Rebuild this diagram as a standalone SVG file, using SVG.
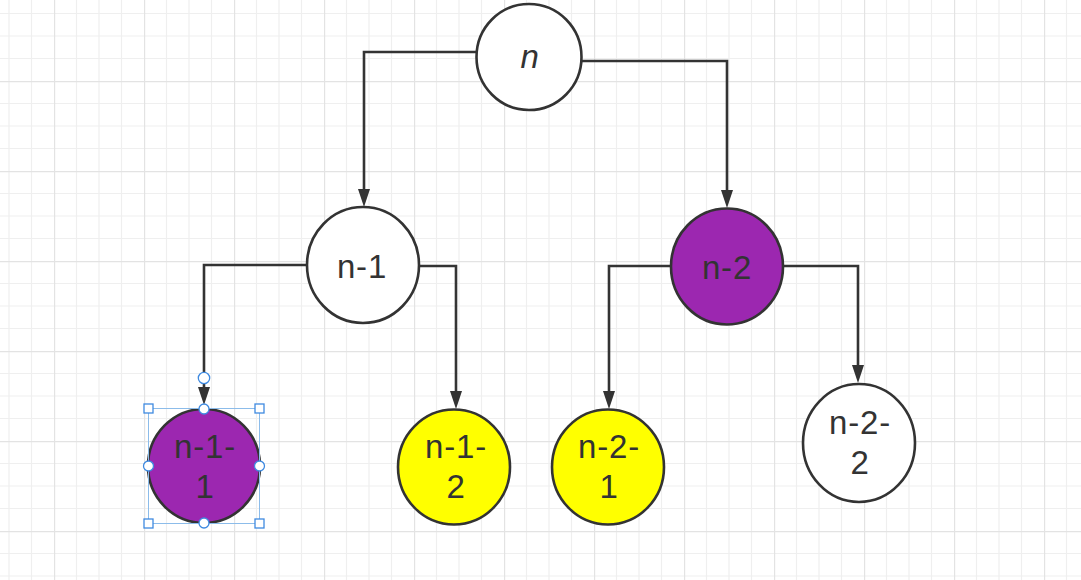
<svg xmlns="http://www.w3.org/2000/svg" width="1081" height="580" viewBox="0 0 1081 580">
  <style>
    .node { stroke: #333333; stroke-width: 2.6; }
    .white { fill: #ffffff; }
    .purple { fill: #9c27b0; }
    .yellow { fill: #ffff00; }
    .label { font-family: "Liberation Sans", Arial, sans-serif; font-size: 33px; fill: #333333; text-anchor: middle; letter-spacing: 0.8px; }
    .edge { fill: none; stroke: #333333; stroke-width: 2.6; }
    .head { fill: #333333; }
    .sel { fill: none; stroke: #8cbcea; stroke-width: 1; }
    .handle { fill: #ffffff; stroke: #3f8ae0; stroke-width: 1.3; }
  </style>
  <defs>
    <pattern id="grid" x="54" y="81" width="90" height="90" patternUnits="userSpaceOnUse">
      <path d="M22.5 0V90M45 0V90M67.5 0V90M0 22.5H90M0 45H90M0 67.5H90" stroke="#efefef" stroke-width="1.2" fill="none"/>
      <path d="M0.5 0V90M0 0.5H90" stroke="#e3e3e3" stroke-width="1.4" fill="none"/>
    </pattern>
  </defs>

  <!-- background grid -->
  <rect width="1081" height="580" fill="#ffffff"/>
  <rect width="1081" height="580" fill="url(#grid)"/>

  <!-- connectors: elbow lines with filled arrowheads -->
  <g id="connectors">
    <path class="edge" d="M477 52 H364 V189"/>
    <path class="edge" d="M582 61 H727 V190"/>
    <path class="edge" d="M307 265 H204 V387"/>
    <path class="edge" d="M420 266 H456 V391"/>
    <path class="edge" d="M671 266 H609 V391"/>
    <path class="edge" d="M783 266 H858 V365"/>
    <path class="head" d="M358 189 H370 L364 207 Z"/>
    <path class="head" d="M721 190 H733 L727 208 Z"/>
    <path class="head" d="M198 387 H210 L204 405 Z"/>
    <path class="head" d="M450 391 H462 L456 409 Z"/>
    <path class="head" d="M603 391 H615 L609 409 Z"/>
    <path class="head" d="M852 365 H864 L858 383 Z"/>
  </g>

  <!-- nodes -->
  <g id="node-n">
    <ellipse class="node white" cx="529" cy="57" rx="52.5" ry="53"/>
    <text class="label" x="530" y="68" font-style="italic">n</text>
  </g>
  <g id="node-n-1">
    <ellipse class="node white" cx="363" cy="265" rx="56" ry="58"/>
    <text class="label" x="362" y="278">n-1</text>
  </g>
  <g id="node-n-2">
    <ellipse class="node purple" cx="727" cy="266.5" rx="56" ry="58"/>
    <text class="label" x="727" y="279">n-2</text>
  </g>
  <g id="node-n-1-1">
    <ellipse class="node purple" cx="204" cy="466" rx="56" ry="57"/>
    <text class="label" x="205" y="458">n-1-</text>
    <text class="label" x="205" y="498">1</text>
  </g>
  <g id="node-n-1-2">
    <ellipse class="node yellow" cx="454" cy="467" rx="56" ry="57.5"/>
    <text class="label" x="456" y="458">n-1-</text>
    <text class="label" x="456" y="498">2</text>
  </g>
  <g id="node-n-2-1">
    <ellipse class="node yellow" cx="608" cy="467" rx="56" ry="57.5"/>
    <text class="label" x="609" y="458">n-2-</text>
    <text class="label" x="609" y="498">1</text>
  </g>
  <g id="node-n-2-2">
    <ellipse class="node white" cx="859" cy="443" rx="56" ry="59"/>
    <text class="label" x="860" y="434">n-2-</text>
    <text class="label" x="860" y="474">2</text>
  </g>

  <!-- selection frame on n-1-1 -->
  <g id="selection">
    <rect class="sel" x="148.5" y="408.5" width="111" height="115"/>
    <rect class="handle" x="144" y="404" width="9" height="9"/>
    <rect class="handle" x="255" y="404" width="9" height="9"/>
    <rect class="handle" x="144" y="519" width="9" height="9"/>
    <rect class="handle" x="255" y="519" width="9" height="9"/>
    <circle class="handle" cx="204" cy="409" r="5"/>
    <circle class="handle" cx="204" cy="523" r="5"/>
    <circle class="handle" cx="148.5" cy="466" r="5"/>
    <circle class="handle" cx="259.5" cy="466" r="5"/>
    <circle class="handle" cx="204" cy="378" r="5.7" stroke-width="1.6"/>
  </g>
</svg>
